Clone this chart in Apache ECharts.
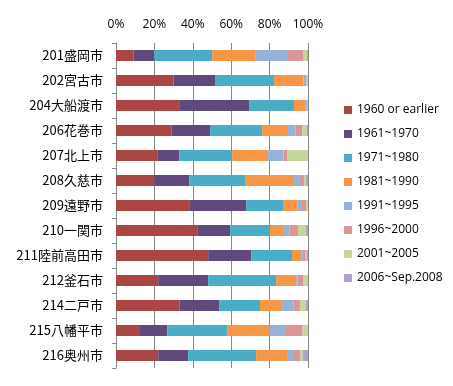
<!DOCTYPE html>
<html><head><meta charset="utf-8">
<script src="https://cdn.jsdelivr.net/npm/echarts@6/dist/echarts.min.js"></script>
<style>html,body{margin:0;padding:0;background:#fff}#c{width:453px;height:386px}</style>
</head><body><div id="c"></div>
<script>
var categories = ['201盛岡市','202宮古市','204大船渡市','206花巻市','207北上市','208久慈市','209遠野市','210一関市','211陸前高田市','212釜石市','214二戸市','215八幡平市','216奥州市'];
var seriesNames = ['1960 or earlier','1961~1970','1971~1980','1981~1990','1991~1995','1996~2000','2001~2005','2006~Sep.2008'];
var xTicks = [0, 20, 40, 60, 80, 100];
var s1960 = [9.2, 30.0, 32.9, 28.9, 21.5, 19.9, 38.5, 42.3, 48.0, 22.0, 33.1, 12.5, 22.0];
var s1961 = [10.7, 21.6, 36.4, 20.1, 11.4, 18.2, 29.3, 17.1, 22.4, 26.0, 20.6, 14.2, 15.6];
var s1971 = [30.2, 30.7, 23.4, 27.1, 27.6, 29.1, 19.2, 20.8, 21.3, 35.4, 21.3, 31.2, 35.4];
var s1981 = [22.7, 15.3, 6.1, 13.5, 18.7, 25.5, 7.6, 6.8, 4.8, 10.4, 11.5, 22.2, 16.1];
var s1991 = [16.8, 1.4, 1.0, 3.8, 8.1, 3.1, 1.8, 3.3, 1.4, 0.8, 6.0, 7.9, 3.6];
var s1996 = [7.8, 0.3, 0.1, 3.5, 1.8, 2.1, 2.6, 4.5, 0.9, 3.1, 3.3, 9.2, 3.1];
var s2001 = [2.1, 0.6, 0.1, 2.4, 10.9, 1.1, 0.8, 4.2, 0.5, 2.0, 3.2, 2.8, 1.4];
var s2006 = [0.5, 0.1, 0.0, 0.7, 0.0, 1.0, 0.2, 1.0, 0.7, 0.3, 1.0, 0.0, 2.8];
var allData = [s1960, s1961, s1971, s1981, s1991, s1996, s2001, s2006];
var colors = ['#AA4643','#604A7B','#4BACC6','#F79646','#95B3D7','#D99694','#C3D69B','#B3A2C7'];

var chart = echarts.init(document.getElementById('c'), null, {renderer:'canvas'});
chart.setOption({
  animation: false,
  color: colors,
  textStyle: {fontFamily: 'Noto Sans CJK JP'},
  grid: {left: 116, top: 43, width: 192, height: 325, containLabel: false},
  legend: {
    orient: 'vertical', left: 344, top: 103, padding: 0,
    itemWidth: 8, itemHeight: 8, itemGap: 10,
    icon: 'rect',
    textStyle: {fontSize: 12, color: '#000', lineHeight: 14, fontFamily: 'Open Sans'},
    data: seriesNames
  },
  xAxis: {
    type: 'value', position: 'top', min: xTicks[0], max: xTicks[xTicks.length-1], interval: 20,
    axisLine: {show: false}, axisTick: {show: false},
    axisLabel: {formatter: '{value}%', fontSize: 12, color: '#000', margin: 12, fontFamily: 'Open Sans'},
    splitLine: {show: true, lineStyle: {color: '#868686', width: 1}}
  },
  yAxis: {
    type: 'category', data: categories, inverse: true,
    axisLine: {show: true, lineStyle: {color: '#868686'}},
    axisTick: {show: true, length: 4, lineStyle: {color: '#868686'}},
    axisLabel: {fontSize: 13, color: '#000', margin: 13}
  },
  series: seriesNames.map(function(n, i){
    return {name: n, type: 'bar', stack: 'all', barWidth: 11, data: allData[i]};
  })
});
</script></body></html>
